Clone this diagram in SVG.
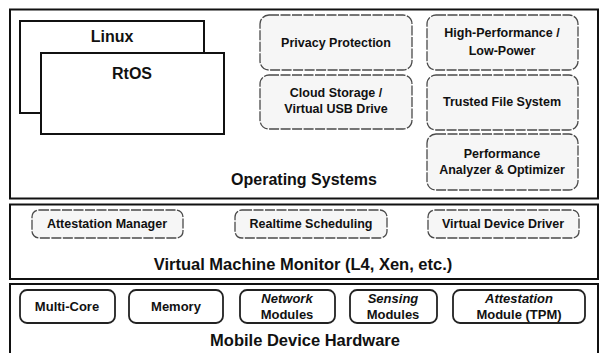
<svg xmlns="http://www.w3.org/2000/svg" width="601" height="353" viewBox="0 0 601 353">
<style>
text{font-family:"Liberation Sans",Arial,sans-serif;font-weight:bold;fill:#111;text-anchor:middle}
.layer{fill:#fff;stroke:#111;stroke-width:2}
.os{fill:#fff;stroke:#111;stroke-width:2}
.svc{fill:#f6f6f6;stroke:#4a4a4a;stroke-width:1.3;stroke-dasharray:10 1.5}
.hw{fill:#fff;stroke:#222;stroke-width:1.8}
.t13{font-size:12.5px}
.hw13{font-size:13px}
.big{font-size:16px}
.it{font-style:italic}
</style>
<rect width="601" height="353" fill="#fff"/>
<g id="operating-systems">
<rect class="layer" x="10" y="9.5" width="588" height="189"/>
<text class="big" x="304" y="185">Operating Systems</text>
</g>
<g id="linux"><rect class="os" x="20" y="21" width="184" height="92"/><text class="big" x="112" y="42">Linux</text></g>
<g id="rtos"><rect class="os" x="41" y="53" width="183" height="81"/><text class="big" x="132" y="79">RtOS</text></g>
<g id="privacy"><rect class="svc" x="260" y="15" width="152" height="55" rx="9"/><text class="t13" x="336" y="47">Privacy Protection</text></g>
<g id="cloud"><rect class="svc" x="260" y="75" width="152" height="54" rx="9"/><text class="t13" x="336" y="97">Cloud Storage /</text><text class="t13" x="336" y="113">Virtual USB Drive</text></g>
<g id="highperf"><rect class="svc" x="427" y="15" width="151" height="55" rx="9"/><text class="t13" x="502" y="37">High-Performance /</text><text class="t13" x="502" y="55">Low-Power</text></g>
<g id="trusted"><rect class="svc" x="427" y="75" width="151" height="55" rx="9"/><text class="t13" x="502" y="106">Trusted File System</text></g>
<g id="perf"><rect class="svc" x="427" y="134" width="151" height="56" rx="9"/><text class="t13" x="502" y="158">Performance</text><text class="t13" x="502" y="174">Analyzer &amp; Optimizer</text></g>
<g id="vmm">
<rect class="layer" x="10" y="204.5" width="588" height="74.5"/>
<text x="303" y="270" font-size="16.5px">Virtual Machine Monitor (L4, Xen, etc.)</text>
</g>
<g id="attest-mgr"><rect class="svc" x="32" y="210" width="151" height="28" rx="7"/><text class="t13" x="107" y="228">Attestation Manager</text></g>
<g id="realtime"><rect class="svc" x="235" y="210" width="152" height="28" rx="7"/><text class="t13" x="311" y="228">Realtime Scheduling</text></g>
<g id="vdd"><rect class="svc" x="428" y="210" width="151" height="28" rx="7"/><text class="t13" x="503" y="228">Virtual Device Driver</text></g>
<g id="hardware">
<rect class="layer" x="10" y="284" width="588" height="75"/>
<text x="305" y="346" font-size="16.5px">Mobile Device Hardware</text>
</g>
<g id="multicore"><rect class="hw" x="20" y="290" width="95" height="33" rx="7"/><text class="hw13" x="67" y="311">Multi-Core</text></g>
<g id="memory"><rect class="hw" x="129" y="290" width="94" height="33" rx="7"/><text class="hw13" x="176" y="311">Memory</text></g>
<g id="network"><rect class="hw" x="240" y="290" width="95" height="33" rx="7"/><text class="hw13 it" x="287" y="303">Network</text><text class="hw13" x="287" y="319">Modules</text></g>
<g id="sensing"><rect class="hw" x="350" y="290" width="87" height="33" rx="7"/><text class="hw13 it" x="393" y="303">Sensing</text><text class="hw13" x="393" y="319">Modules</text></g>
<g id="tpm"><rect class="hw" x="453" y="290" width="132" height="33" rx="7"/><text class="hw13 it" x="519" y="303">Attestation</text><text class="hw13" x="519" y="319">Module (TPM)</text></g>
<g id="connectors"></g>
</svg>
